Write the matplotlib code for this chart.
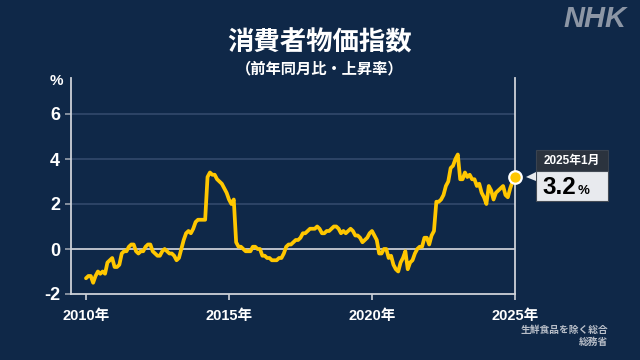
import matplotlib
matplotlib.use('Agg')
import matplotlib.pyplot as plt
import numpy as np
from matplotlib.patches import Rectangle, Polygon

# ---- data: core CPI (excl. fresh food), y/y %, monthly from Jan 2010 ----
start_year = 2010
cpi_2010 = [-1.3, -1.2, -1.2, -1.5, -1.2, -1.0, -1.1, -1.0, -1.1, -0.6, -0.5, -0.4]
cpi_2011 = [-0.8, -0.8, -0.7, -0.2, -0.1, -0.1, 0.1, 0.2, 0.2, -0.1, -0.2, -0.1]
cpi_2012 = [-0.1, 0.1, 0.2, 0.2, -0.1, -0.2, -0.3, -0.3, -0.1, 0.0, -0.1, -0.2]
cpi_2013 = [-0.2, -0.3, -0.5, -0.4, 0.0, 0.4, 0.7, 0.8, 0.7, 0.9, 1.2, 1.3]
cpi_2014 = [1.3, 1.3, 1.3, 3.2, 3.4, 3.3, 3.3, 3.1, 3.0, 2.9, 2.7, 2.5]
cpi_2015 = [2.2, 2.0, 2.2, 0.3, 0.1, 0.1, 0.0, -0.1, -0.1, -0.1, 0.1, 0.1]
cpi_2016 = [0.0, 0.0, -0.3, -0.3, -0.4, -0.4, -0.5, -0.5, -0.5, -0.4, -0.4, -0.2]
cpi_2017 = [0.1, 0.2, 0.2, 0.3, 0.4, 0.4, 0.5, 0.7, 0.7, 0.8, 0.9, 0.9]
cpi_2018 = [0.9, 1.0, 0.9, 0.7, 0.7, 0.8, 0.8, 0.9, 1.0, 1.0, 0.9, 0.7]
cpi_2019 = [0.8, 0.7, 0.8, 0.9, 0.8, 0.6, 0.6, 0.5, 0.3, 0.4, 0.5, 0.7]
cpi_2020 = [0.8, 0.6, 0.4, -0.2, -0.2, 0.0, 0.0, -0.4, -0.3, -0.7, -0.9, -1.0]
cpi_2021 = [-0.6, -0.4, -0.1, -0.9, -0.6, -0.5, -0.2, 0.0, 0.1, 0.1, 0.5, 0.5]
cpi_2022 = [0.2, 0.6, 0.8, 2.1, 2.1, 2.2, 2.4, 2.8, 3.0, 3.6, 3.7, 4.0]
cpi_2023 = [4.2, 3.1, 3.1, 3.4, 3.2, 3.3, 3.1, 3.1, 2.8, 2.9, 2.5, 2.3]
cpi_2024 = [2.0, 2.8, 2.6, 2.2, 2.5, 2.6, 2.7, 2.8, 2.4, 2.3, 2.7, 3.0]
cpi_2025 = [3.2]

xtick_years = [2010, 2015, 2020, 2025]
xtick_labels = ['2010年', '2015年', '2020年', '2025年']
ytick_values = [-2, 0, 2, 4, 6]
ytick_labels = ['-2', '0', '2', '4', '6']
title = '消費者物価指数'
subtitle = '（前年同月比・上昇率）'
last_label = '2025年1月'
unit = '%'
notes = ['生鮮食品を除く総合', '総務省']

cpi = (cpi_2010 + cpi_2011 + cpi_2012 + cpi_2013 + cpi_2014 + cpi_2015 +
       cpi_2016 + cpi_2017 + cpi_2018 + cpi_2019 + cpi_2020 + cpi_2021 +
       cpi_2022 + cpi_2023 + cpi_2024 + cpi_2025)
x = start_year + np.arange(len(cpi)) / 12.0

# ---- style ----
BG = '#0F2848'
LINE = '#FFC700'
FAM = ['Liberation Sans', 'Noto Sans CJK JP', 'DejaVu Sans']
JP = ['Noto Sans CJK JP', 'DejaVu Sans']
plt.rcParams['font.family'] = FAM

W, H = 640, 360
fig = plt.figure(figsize=(6.4, 3.6), dpi=100, facecolor=BG)
ax = fig.add_axes([71 / W, 66 / H, 444 / W, 216 / H])
ax.set_facecolor(BG)
ax.set_xlim(2009.476, 2025.0)
ax.set_ylim(-2, 7.6)

ax.spines['top'].set_visible(False)
for s in ['left', 'bottom', 'right']:
    ax.spines[s].set_color('#cdd1d8')
    ax.spines[s].set_linewidth(1.3)

for v in ytick_values:
    if v == 0:
        ax.axhline(v, color='#c9cdd4', lw=1.3, zorder=1)
    elif v > 0:
        ax.axhline(v, color='#33496b', lw=1.2, zorder=1)

ax.set_yticks(ytick_values)
ax.set_yticklabels(ytick_labels)
ax.set_xticks(xtick_years)
ax.set_xticklabels(xtick_labels)
ax.tick_params(axis='y', length=4, width=1.2, color='#9aa2ae', labelcolor='white',
               labelsize=13, pad=4)
ax.tick_params(axis='x', length=4, width=1.2, color='#cdd1d8', labelcolor='white',
               labelsize=10.5, pad=7)
for lab in ax.get_yticklabels() + ax.get_xticklabels():
    lab.set_fontweight('bold')
    lab.set_family(FAM)

ax.plot(x, cpi, color=LINE, lw=2.7, solid_joinstyle='round', solid_capstyle='round', zorder=3)
ax.plot(x[-1], cpi[-1], 'o', ms=9, mfc=LINE, mec='white', mew=1.6, zorder=6, clip_on=False)

# ---- annotation box anchored to last point ----
px, py = ax.transData.transform((x[-1], cpi[-1]))
fx = lambda v: v / W
fy = lambda v: v / H
hdr_col = '#2b333e'
body_col = '#e8eaee'
fig.patches.append(Rectangle((fx(px + 21), fy(py + 6)), fx(72), fy(21.5), transform=fig.transFigure,
                             fc=hdr_col, ec='#3a4350', lw=0.8, zorder=5))
fig.patches.append(Rectangle((fx(px + 21), fy(py - 24)), fx(72), fy(30), transform=fig.transFigure,
                             fc=body_col, ec='#444b55', lw=0.8, zorder=5))
fig.patches.append(Polygon([(fx(px + 11), fy(py + 0)), (fx(px + 21), fy(py + 5)),
                            (fx(px + 21), fy(py - 4))], closed=True, transform=fig.transFigure,
                           fc=body_col, ec='none', zorder=5))
fig.text(fx(px + 57), fy(py + 16.5), last_label, color='white', fontsize=8.5, fontweight='bold',
         ha='center', va='center', family=FAM, zorder=7)
fig.text(fx(px + 27), fy(py - 17), f'{cpi[-1]:.1f}', color='black', fontsize=17.5, fontweight='bold',
         ha='left', va='baseline', family=FAM, zorder=7)
fig.text(fx(px + 63), fy(py - 17), unit, color='black', fontsize=9.5, fontweight='bold',
         ha='left', va='baseline', family=FAM, zorder=7)

# ---- titles and texts ----
fig.text(0.5, 1 - 43 / H, title, color='white', fontsize=19, fontweight='bold',
         ha='center', va='center', family=JP)
fig.text(0.5, 1 - 68 / H, subtitle, color='white', fontsize=11, fontweight='bold',
         ha='center', va='center', family=JP)
fig.text(56 / W, 1 - 81 / H, unit, color='white', fontsize=11, fontweight='bold',
         ha='center', va='center', family=FAM)
fig.text(595 / W, 1 - 19 / H, 'NHK', color='#8c96a5', fontsize=21, fontweight='bold',
         style='italic', ha='center', va='center', family=['Liberation Sans'])
fig.text(608 / W, 1 - 330 / H, notes[0], color='#b9bfc9', fontsize=7, fontweight='bold',
         ha='right', va='center', family=JP)
fig.text(608 / W, 1 - 342 / H, notes[1], color='#b9bfc9', fontsize=7, fontweight='bold',
         ha='right', va='center', family=JP)

fig.savefig('out.png', dpi=100, facecolor=BG)
